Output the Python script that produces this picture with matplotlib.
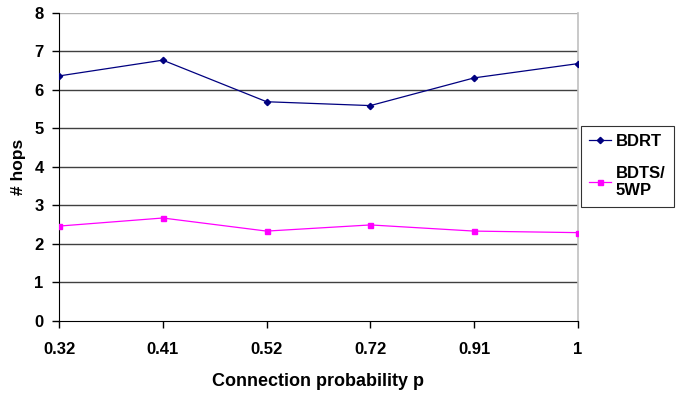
import matplotlib
matplotlib.use("Agg")
import matplotlib.pyplot as plt

# ---------- data ----------
prob_labels = ["0.32", "0.41", "0.52", "0.72", "0.91", "1"]
bdrt = [6.36, 6.77, 5.69, 5.59, 6.31, 6.68]
bdts_5wp = [2.46, 2.67, 2.33, 2.49, 2.33, 2.29]
y_ticks = [0, 1, 2, 3, 4, 5, 6, 7, 8]

plt.rcParams["font.family"] = ["Liberation Sans", "DejaVu Sans"]

fig = plt.figure(figsize=(6.83, 3.98), dpi=100)
ax = fig.add_axes([59 / 683, 1 - 320.8 / 398, (578 - 59) / 683, (320.8 - 12.8) / 398])

xs = list(range(len(prob_labels)))

# gridlines (Excel style)
for v in y_ticks[1:]:
    ax.axhline(v, color="#b0b0b0" if v == 8 else "#404040", lw=1.0, zorder=1)

ax.plot(xs, bdrt, color="#000080", lw=0.9, marker="D", ms=3.2, label="BDRT", zorder=3)
ax.plot(xs, bdts_5wp, color="#ff00ff", lw=0.9, marker="s", ms=3.6, label="BDTS/\n5WP", zorder=3)

ax.set_xlim(0, len(prob_labels) - 1)
ax.set_ylim(0, 8)
ax.set_xticks(xs)
ax.set_xticklabels(prob_labels, fontsize=12, fontweight="bold")
ax.set_yticks(y_ticks)
ax.set_yticklabels([str(v) for v in y_ticks], fontsize=12, fontweight="bold")
ax.tick_params(axis="both", direction="out", length=5, width=1, color="black")
ax.tick_params(axis="x", pad=10)
ax.tick_params(axis="y", pad=6)

ax.spines["top"].set_visible(False)
ax.spines["right"].set_color("#c0c0c0")
ax.spines["right"].set_linewidth(1.2)
ax.spines["left"].set_color("black")
ax.spines["bottom"].set_color("black")

ax.set_xlabel("Connection probability p", fontsize=13, fontweight="bold", labelpad=12)
ax.set_ylabel("# hops", fontsize=12.5, fontweight="bold", labelpad=6)

leg = ax.legend(loc="upper left", bbox_to_anchor=(581 / 683, 1 - 126 / 398),
                bbox_transform=fig.transFigure, frameon=True, fancybox=False,
                edgecolor="black", prop={"weight": "bold", "size": 12},
                handlelength=1.3, handletextpad=0.3, borderpad=0.5, labelspacing=1.0,
                borderaxespad=0)
leg.get_frame().set_linewidth(0.8)

fig.savefig("out.png", dpi=100)
